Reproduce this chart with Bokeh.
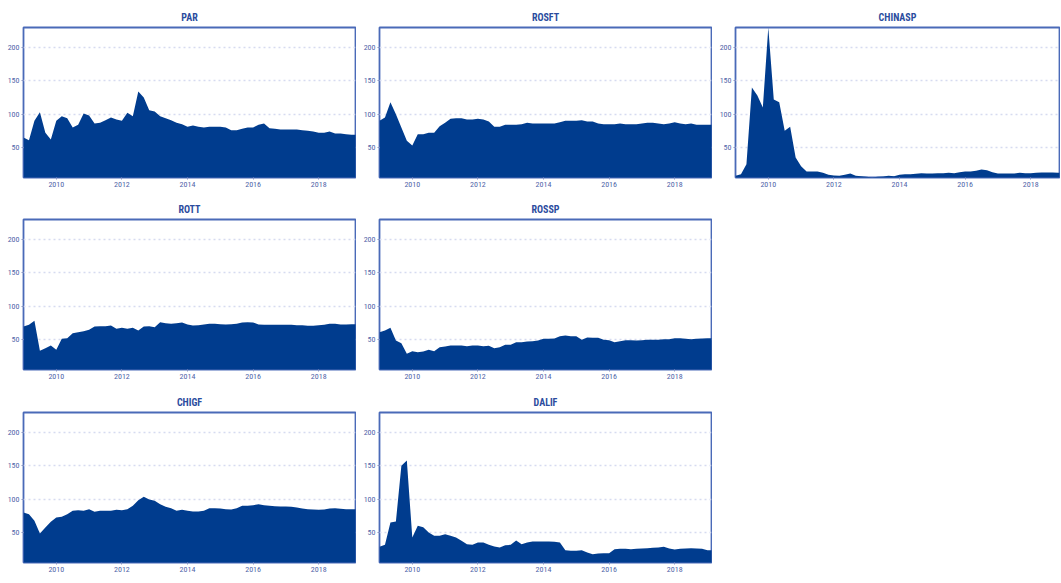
from bokeh.plotting import figure
from bokeh.layouts import gridplot
from bokeh.models import FixedTicker, Range1d
from bokeh.embed import file_html
from bokeh.resources import INLINE

# ---- data: every second month, Jan 2009 .. Mar 2019 ----
dates = [f"{2009 + i // 6}-{(i % 6) * 2 + 1:02d}" for i in range(62)]

PAR = [65, 61, 90, 103, 72, 62,
       90, 97, 94, 80, 84, 101,
       98, 86, 87, 91, 95, 92,
       90, 102, 97, 134, 125, 106,
       104, 97, 94, 91, 87, 85,
       81, 83, 81, 80, 81, 81,
       81, 80, 76, 76, 78, 80,
       80, 84, 86, 79, 78, 77,
       77, 77, 77, 76, 75, 74,
       72, 72, 74, 71, 71, 70,
       69, 69]
ROSFT = [90, 95, 118, 100, 80, 60,
         53, 70, 70, 72, 72, 82,
         87, 93, 94, 94, 92, 92,
         93, 92, 89, 81, 81, 84,
         84, 84, 85, 87, 86, 86,
         86, 86, 86, 88, 90, 90,
         90, 91, 89, 89, 86, 85,
         85, 85, 86, 85, 85, 85,
         86, 87, 87, 86, 85, 86,
         88, 86, 85, 86, 84, 84,
         84, 84]
CHINASP = [7.5, 10, 25, 140, 128, 110,
           230, 122, 118, 75, 81, 35,
           22, 14, 14, 14, 12, 9,
           8, 7.5, 9, 11, 7.5, 7,
           6, 5, 6, 6.5, 7.5, 7,
           9, 10, 10, 10.5, 11.5, 11,
           11, 11.5, 11.5, 12, 11.5, 13,
           14, 14, 15, 17, 16, 13,
           11, 11, 11, 11, 12, 11.5,
           11.5, 12, 12.5, 12.5, 12.5, 12,
           12, 12]
ROTT = [69.5, 72, 78, 33, 37, 41,
        34.5, 51, 52, 59.5, 61, 62.5,
        64.5, 69.5, 70, 70, 71, 66,
        67.5, 66, 67.5, 63.5, 69.5, 70,
        68.5, 76, 74.5, 73.5, 74.5, 75.5,
        72.5, 71, 71.5, 72.5, 73.5, 73.5,
        73, 72.5, 73, 73.5, 75.5, 76,
        75.5, 72.5, 72, 72, 72, 72,
        72, 72, 71.5, 71.5, 70.5, 70.5,
        71.5, 72, 73.5, 73.5, 72.5, 72.5,
        73, 73]
ROSSP = [61, 63.5, 67.5, 48.5, 44.5, 28.5,
         32.5, 31, 32, 34.5, 32.5, 38.5,
         39.5, 41, 41, 41, 40, 41,
         41, 40, 40.5, 37, 38.5, 42,
         42, 46, 46, 47, 47.5, 48.5,
         51, 51, 51.5, 55, 56, 55,
         55, 49.5, 53, 52.5, 52.5, 49.5,
         49, 46, 47.5, 49, 49, 48.5,
         49, 49.5, 49.5, 49.5, 50.5, 50.5,
         52, 52, 51, 50.5, 51, 51.5,
         52, 52]
CHIGF = [80, 77.5, 67.5, 48.5, 57.5, 66,
         72.5, 73.5, 77.5, 82.5, 83.5, 82.5,
         85, 81, 82.5, 82.5, 82.5, 84,
         83.5, 85, 90, 98.5, 103.5, 99.5,
         97.5, 92.5, 88.5, 86.5, 82.5, 84,
         82.5, 81.5, 81.5, 82.5, 86.5, 86.5,
         86, 85, 84.5, 86.5, 90, 90,
         91, 92.5, 91, 90, 89.5, 89,
         89, 88.5, 87.5, 86, 85, 84.5,
         84, 84.5, 86, 86.5, 85.5, 85,
         85, 85]
DALIF = [28.5, 31.5, 65, 66.5, 150, 158,
         42.5, 60, 58, 50, 45, 45,
         47.5, 45, 42.5, 37.5, 32.5, 31.5,
         35, 35, 31.5, 29, 27.5, 31,
         31.5, 38, 32.5, 35, 36.5, 36.5,
         36.5, 36.5, 36, 35, 23.5, 22.5,
         22.5, 23.5, 20, 17.5, 18.5, 19,
         19, 25, 25.5, 25.5, 25, 25.5,
         26, 26.5, 27, 27.5, 28.5, 26,
         24.5, 25.5, 26, 26.5, 26, 25.5,
         23.5, 23.5]

panels = [("PAR", PAR), ("ROSFT", ROSFT), ("CHINASP", CHINASP),
          ("ROTT", ROTT), ("ROSSP", ROSSP),
          ("CHIGF", CHIGF), ("DALIF", DALIF)]

year_ticks = [2010, 2012, 2014, 2016, 2018]
value_ticks = [50, 100, 150, 200]

x = [int(d[:4]) + (int(d[5:]) - 1) / 12 for d in dates]

FILL = "#003C8E"
FRAME = "#4A6AB8"
TITLE_C = "#2B4C9E"
LABEL_C = "#4F64A8"
FONT = "'Liberation Sans Narrow', 'Roboto Condensed', 'Liberation Sans', sans-serif"

PX_PER_YEAR = 32.8


def make(title, vals, width, height, right_border, bottom_border, frame_w):
    p = figure(width=width, height=height, output_backend="svg",
               toolbar_location=None, tools="",
               x_range=Range1d(2009.0, 2009.0 + frame_w / PX_PER_YEAR),
               y_range=Range1d(5, 230),
               min_border_left=23, min_border_right=right_border,
               min_border_top=27, min_border_bottom=bottom_border)
    p.varea(x=x, y1=0, y2=vals, fill_color=FILL, fill_alpha=1.0)
    p.title.text = title
    p.title.align = "center"
    p.title.text_font = FONT
    p.title.text_font_style = "bold"
    p.title.text_font_size = "10px"
    p.title.text_color = TITLE_C
    p.title.standoff = 10
    p.outline_line_color = FRAME
    p.outline_line_width = 1.8
    p.outline_line_alpha = 1.0
    p.background_fill_color = "white"
    p.border_fill_color = "white"
    p.xgrid.grid_line_color = None
    p.ygrid.grid_line_color = "#D6DBF0"
    p.ygrid.grid_line_dash = "2 3"
    p.ygrid.grid_line_width = 1.5
    p.ygrid.ticker = FixedTicker(ticks=value_ticks)
    p.yaxis.ticker = FixedTicker(ticks=value_ticks)
    p.xaxis.ticker = FixedTicker(ticks=year_ticks)
    for ax in (p.xaxis[0], p.yaxis[0]):
        ax.axis_line_color = None
        ax.major_tick_in = 0
        ax.major_tick_out = 2
        ax.minor_tick_in = 0
        ax.minor_tick_out = 0
        ax.major_tick_line_color = "#8A96C4"
        ax.major_label_text_font = FONT
        ax.major_label_text_font_size = "8px"
        ax.major_label_text_color = LABEL_C
        ax.major_label_standoff = 2
    return p


figs = []
for i, (t, v) in enumerate(panels):
    col = [0, 1, 2, 0, 1, 0, 1][i]
    row = [0, 0, 0, 1, 1, 2, 2][i]
    h = [192, 193, 196][row]
    bb = [15, 16, 19][row]
    if col < 2:
        w, rb, fw = 356, 1, 332
    else:
        w, rb, fw = 348, 1, 324
    figs.append(make(t, v, w, h, rb, bb, fw))

grid = gridplot([[figs[0], figs[1], figs[2]],
                 [figs[3], figs[4], None],
                 [figs[5], figs[6], None]],
                toolbar_location=None)

open("out.html", "w").write(file_html(grid, INLINE))
